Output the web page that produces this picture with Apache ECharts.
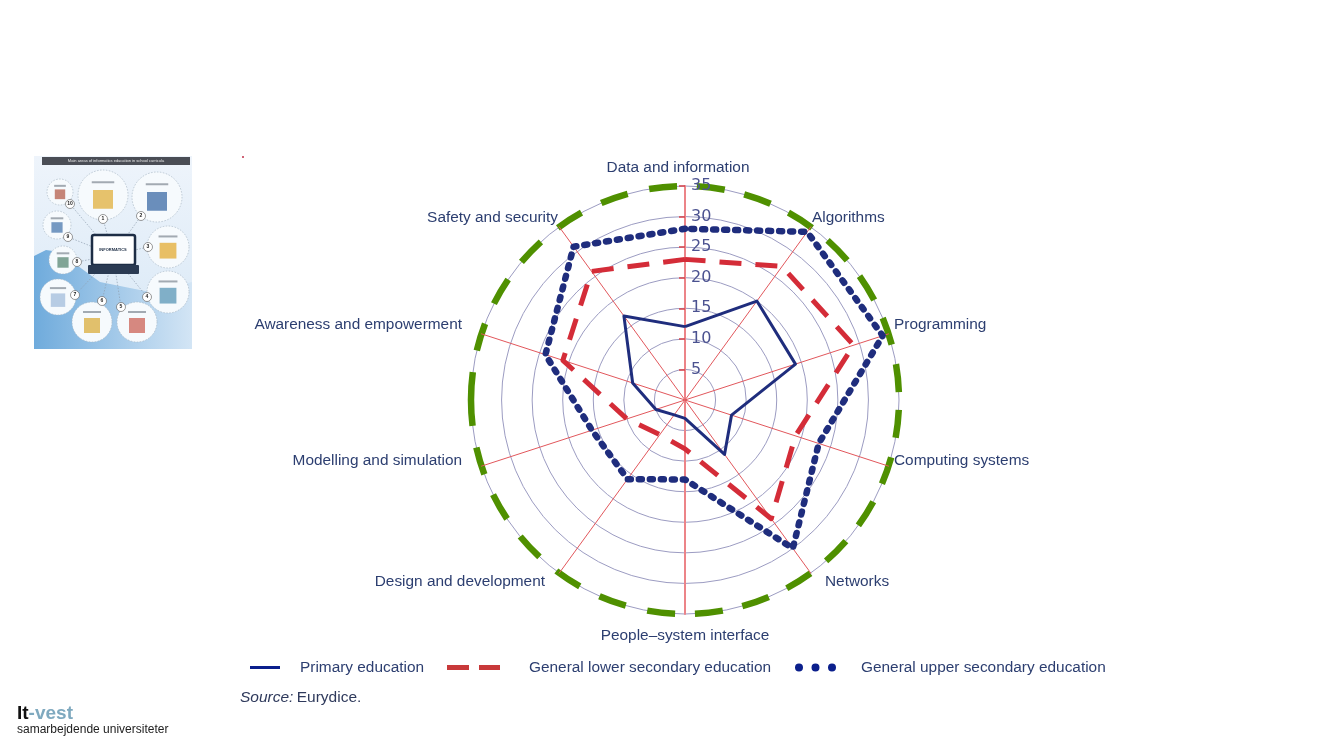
<!DOCTYPE html>
<html>
<head>
<meta charset="utf-8">
<style>html,body{margin:0;padding:0;background:#fff}#chart{width:1333px;height:750px}</style>
<script src="https://cdn.jsdelivr.net/npm/echarts@6/dist/echarts.min.js"></script>
</head>
<body>
<div id="chart"></div>
<script>
const areas = ['Data and information', 'Algorithms', 'Programming', 'Computing systems', 'Networks',
    'People\u2013system interface', 'Design and development', 'Modelling and simulation',
    'Awareness and empowerment', 'Safety and security'];
const primary = [12, 20, 19, 8, 11, 3, 3, 5, 9, 17];
const lowerSecondary = [23, 27, 29, 19, 24, 8, 7, 10, 21, 26];
const upperSecondary = [28, 34, 34, 23, 30, 13, 16, 16, 24, 31];
const axisMax = 35;

// where each area name sits: x, y, align
const namePlaces = [
    [678, 168, 'center'], [812, 218, 'left'], [894, 325, 'left'], [894, 461, 'left'], [825, 582, 'left'],
    [685, 636, 'center'], [545, 582, 'right'], [462, 461, 'right'], [462, 325, 'right'], [558, 218, 'right']
];

const labelColor = '#2c3e70';
const blue = '#1f2d7d';
const red = '#d42c38';
const green = '#4f9000';

// radar runs counter-clockwise, the picture runs clockwise from the top
function clockwise(list) {
    return [list[0]].concat(list.slice(1).reverse());
}

// ring pattern: gaps sit on top/right/bottom, one long dash on the left
function ringDash() {
    const d = [0, 10];
    for (let i = 0; i < 6; i++) d.push(28, 20);
    d.push(28, 20);
    for (let i = 0; i < 6; i++) d.push(28, 22);
    d.push(54, 22);
    for (let i = 0; i < 5; i++) d.push(28, 22);
    d.push(28, 20);
    for (let i = 0; i < 7; i++) d.push(28, 20);
    d.push(0, 10);
    return d;
}

// rough stand-in for the small infographic on the left
function thumbnail() {
    const items = [];
    // cx, cy, r, picture colour, badge x, badge y, badge text
    const circles = [[103, 195, 25, '#e0a92e', 103, 219, '1'], [157, 197, 25, '#2f5f9e', 141, 216, '2'],
        [168, 247, 21, '#e3a524', 148, 247, '3'], [168, 292, 21, '#4f8fb0', 147, 297, '4'],
        [137, 322, 20, '#c9574a', 121, 307, '5'], [92, 322, 20, '#d9a62e', 102, 301, '6'],
        [58, 297, 18, '#9db8d8', 75, 295, '7'], [63, 260, 14, '#4f7f6a', 77, 262, '8'],
        [57, 225, 14, '#3f6fa8', 68, 237, '9'], [60, 192, 13, '#b0523f', 70, 204, '10']];
    items.push({ type: 'rect', shape: { x: 34, y: 156, width: 158, height: 193 },
        style: { fill: new echarts.graphic.LinearGradient(0, 0, 0, 1, [
            { offset: 0, color: '#eef4fb' }, { offset: 1, color: '#d8e8f6' }]) } });
    items.push({ type: 'polygon', shape: { points: [[34, 256], [46, 250], [60, 252], [78, 266], [100, 282], [150, 292], [192, 282], [192, 349], [34, 349]], smooth: 0 },
        style: { fill: new echarts.graphic.LinearGradient(0, 0, 1, 0, [
            { offset: 0, color: '#6fabdc' }, { offset: 1, color: '#d3e5f5' }]) } });
    items.push({ type: 'rect', shape: { x: 42, y: 157, width: 148, height: 8 }, style: { fill: '#4a4d55' } });
    items.push({ type: 'text', x: 116, y: 161, style: { text: 'Main areas of informatics education in school curricula',
        font: '4px "Liberation Sans"', fill: '#e8e8e8', align: 'center', verticalAlign: 'middle' } });
    circles.forEach(function (c) {
        items.push({ type: 'line', shape: { x1: 113, y1: 255, x2: c[4], y2: c[5] },
            style: { stroke: '#8f9fb0', lineWidth: 0.7, lineDash: [1.5, 1.5] } });
    });
    circles.forEach(function (c) {
        items.push({ type: 'circle', shape: { cx: c[0], cy: c[1], r: c[2] },
            style: { fill: '#f6fafd', stroke: '#a9b7c4', lineWidth: 0.7, lineDash: [1.5, 1.5] } });
        items.push({ type: 'rect', shape: { x: c[0] - c[2] * 0.4, y: c[1] - c[2] * 0.2, width: c[2] * 0.8, height: c[2] * 0.75 },
            style: { fill: c[3], opacity: 0.7 } });
        items.push({ type: 'rect', shape: { x: c[0] - c[2] * 0.45, y: c[1] - c[2] * 0.55, width: c[2] * 0.9, height: 2 },
            style: { fill: '#6b7480', opacity: 0.6 } });
        items.push({ type: 'circle', shape: { cx: c[4], cy: c[5], r: 4.5 }, style: { fill: '#fff', stroke: '#555', lineWidth: 0.6 } });
        items.push({ type: 'text', x: c[4], y: c[5], style: { text: c[6], font: 'bold 5px "Liberation Sans"', fill: '#222', align: 'center', verticalAlign: 'middle' } });
    });
    items.push({ type: 'rect', shape: { x: 92, y: 235, width: 43, height: 30, r: 2 }, style: { fill: '#fff', stroke: '#1d2d45', lineWidth: 2.5 } });
    items.push({ type: 'rect', shape: { x: 88, y: 265, width: 51, height: 9, r: 1 }, style: { fill: '#2a3a52' } });
    items.push({ type: 'text', x: 113, y: 250, style: { text: 'INFORMATICS', font: 'bold 4px "Liberation Sans"', fill: '#1d2d45', align: 'center', verticalAlign: 'middle' } });
    return items;
}

function areaNames() {
    return areas.map(function (name, i) {
        return { type: 'text', x: namePlaces[i][0], y: namePlaces[i][1], z: 10,
            style: { text: name, font: '15.4px "Liberation Sans"', fill: labelColor, align: namePlaces[i][2], verticalAlign: 'middle' } };
    });
}

const indicators = clockwise(areas).map(function (name) {
    return { name: name, max: axisMax, min: 0 };
});
// the vertical spoke is a little heavier and paler than the others
const verticalSpoke = { lineStyle: { color: '#ec8488', width: 2 } };

const chart = echarts.init(document.getElementById('chart'), null, { renderer: 'canvas' });
chart.setOption({
    animation: false,
    backgroundColor: '#fff',
    textStyle: { fontFamily: '"Liberation Sans", Arial, sans-serif' },
    legend: [
        { left: 250, top: 660, padding: 0, itemWidth: 30, itemHeight: 3, data: [{ name: 'Primary education', icon: 'rect', itemStyle: { color: '#0b1f8c' } }],
            textStyle: { color: labelColor, fontSize: 15.4, padding: [0, 0, 0, 15] } },
        { left: 447, top: 660, padding: 0, itemWidth: 53, itemHeight: 5, data: [{ name: 'General lower secondary education', icon: 'path://M0 0H22V5H0ZM32 0H53V5H32Z', itemStyle: { color: '#c8393a' } }],
            textStyle: { color: labelColor, fontSize: 15.4, padding: [0, 0, 0, 24] } },
        { left: 795, top: 660, padding: 0, itemWidth: 41, itemHeight: 8, data: [{ name: 'General upper secondary education', icon: 'path://M0 4A4 4 0 1 1 8 4A4 4 0 1 1 0 4ZM16.5 4A4 4 0 1 1 24.5 4A4 4 0 1 1 16.5 4ZM33 4A4 4 0 1 1 41 4A4 4 0 1 1 33 4Z', itemStyle: { color: '#0b1f8c' } }],
            textStyle: { color: labelColor, fontSize: 15.4, padding: [0, 0, 0, 20] } }
    ],
    radar: [
        {
            center: [685, 400],
            radius: 214,
            startAngle: 90,
            splitNumber: 7,
            shape: 'circle',
            axisName: { show: false },
            indicator: indicators.map(function (item, i) {
                if (i === 5) return Object.assign({}, item, { axisLine: verticalSpoke });
                if (i !== 0) return item;
                return Object.assign({}, item, {
                    axisLine: verticalSpoke,
                    axisLabel: { show: true, showMinLabel: false, align: 'left', margin: -6, color: '#4b5290', fontSize: 16, fontFamily: '"DejaVu Sans"' },
                    axisTick: { show: true, length: 6, lineStyle: { color: '#d8434a', width: 1.5 } }
                });
            }),
            axisLine: { lineStyle: { color: '#e2575c', width: 1 } },
            axisTick: { show: false },
            splitLine: { lineStyle: { color: '#9c9cc2', width: 1 } },
            splitArea: { show: false }
        },
        {
            center: [685, 400],
            radius: 214,
            startAngle: 90,
            splitNumber: 1,
            shape: 'circle',
            axisName: { show: false },
            indicator: indicators,
            axisLine: { show: false },
            axisTick: { show: false },
            splitLine: { lineStyle: { color: green, width: 6.5, type: ringDash() } },
            splitArea: { show: false }
        }
    ],
    series: [
        {
            type: 'radar', radarIndex: 0, symbol: 'none',
            data: [
                { name: 'Primary education', value: clockwise(primary), lineStyle: { color: blue, width: 3 }, itemStyle: { color: blue } },
                { name: 'General lower secondary education', value: clockwise(lowerSecondary), lineStyle: { color: red, width: 5, type: [22, 14] }, itemStyle: { color: red } },
                { name: 'General upper secondary education', value: clockwise(upperSecondary), lineStyle: { color: blue, width: 6.5, type: [3, 8], cap: 'round', join: 'round' }, itemStyle: { color: blue } }
            ]
        }
    ],
    graphic: thumbnail().concat(areaNames()).concat([
        { type: 'circle', shape: { cx: 243, cy: 157, r: 1 }, style: { fill: '#c0304a' } },
        { type: 'text', x: 240, y: 698, style: {
            text: '{i|Source:} {n|Eurydice.}',
            verticalAlign: 'middle',
            rich: {
                i: { font: 'italic 15.5px "Liberation Sans"', fill: '#2f3a5c' },
                n: { font: '15.5px "Liberation Sans"', fill: '#2f3a5c' }
            } } },
        { type: 'text', x: 17, y: 714, style: {
            text: '{a|It}{b|-vest}',
            verticalAlign: 'middle',
            rich: {
                a: { font: 'bold 19px "Liberation Sans"', fill: '#111' },
                b: { font: 'bold 19px "Liberation Sans"', fill: '#7fa9bf' }
            } } },
        { type: 'text', x: 17, y: 730, style: { text: 'samarbejdende universiteter', font: '12px "Liberation Sans"', fill: '#222', verticalAlign: 'middle' } }
    ])
});
</script>
</body>
</html>
